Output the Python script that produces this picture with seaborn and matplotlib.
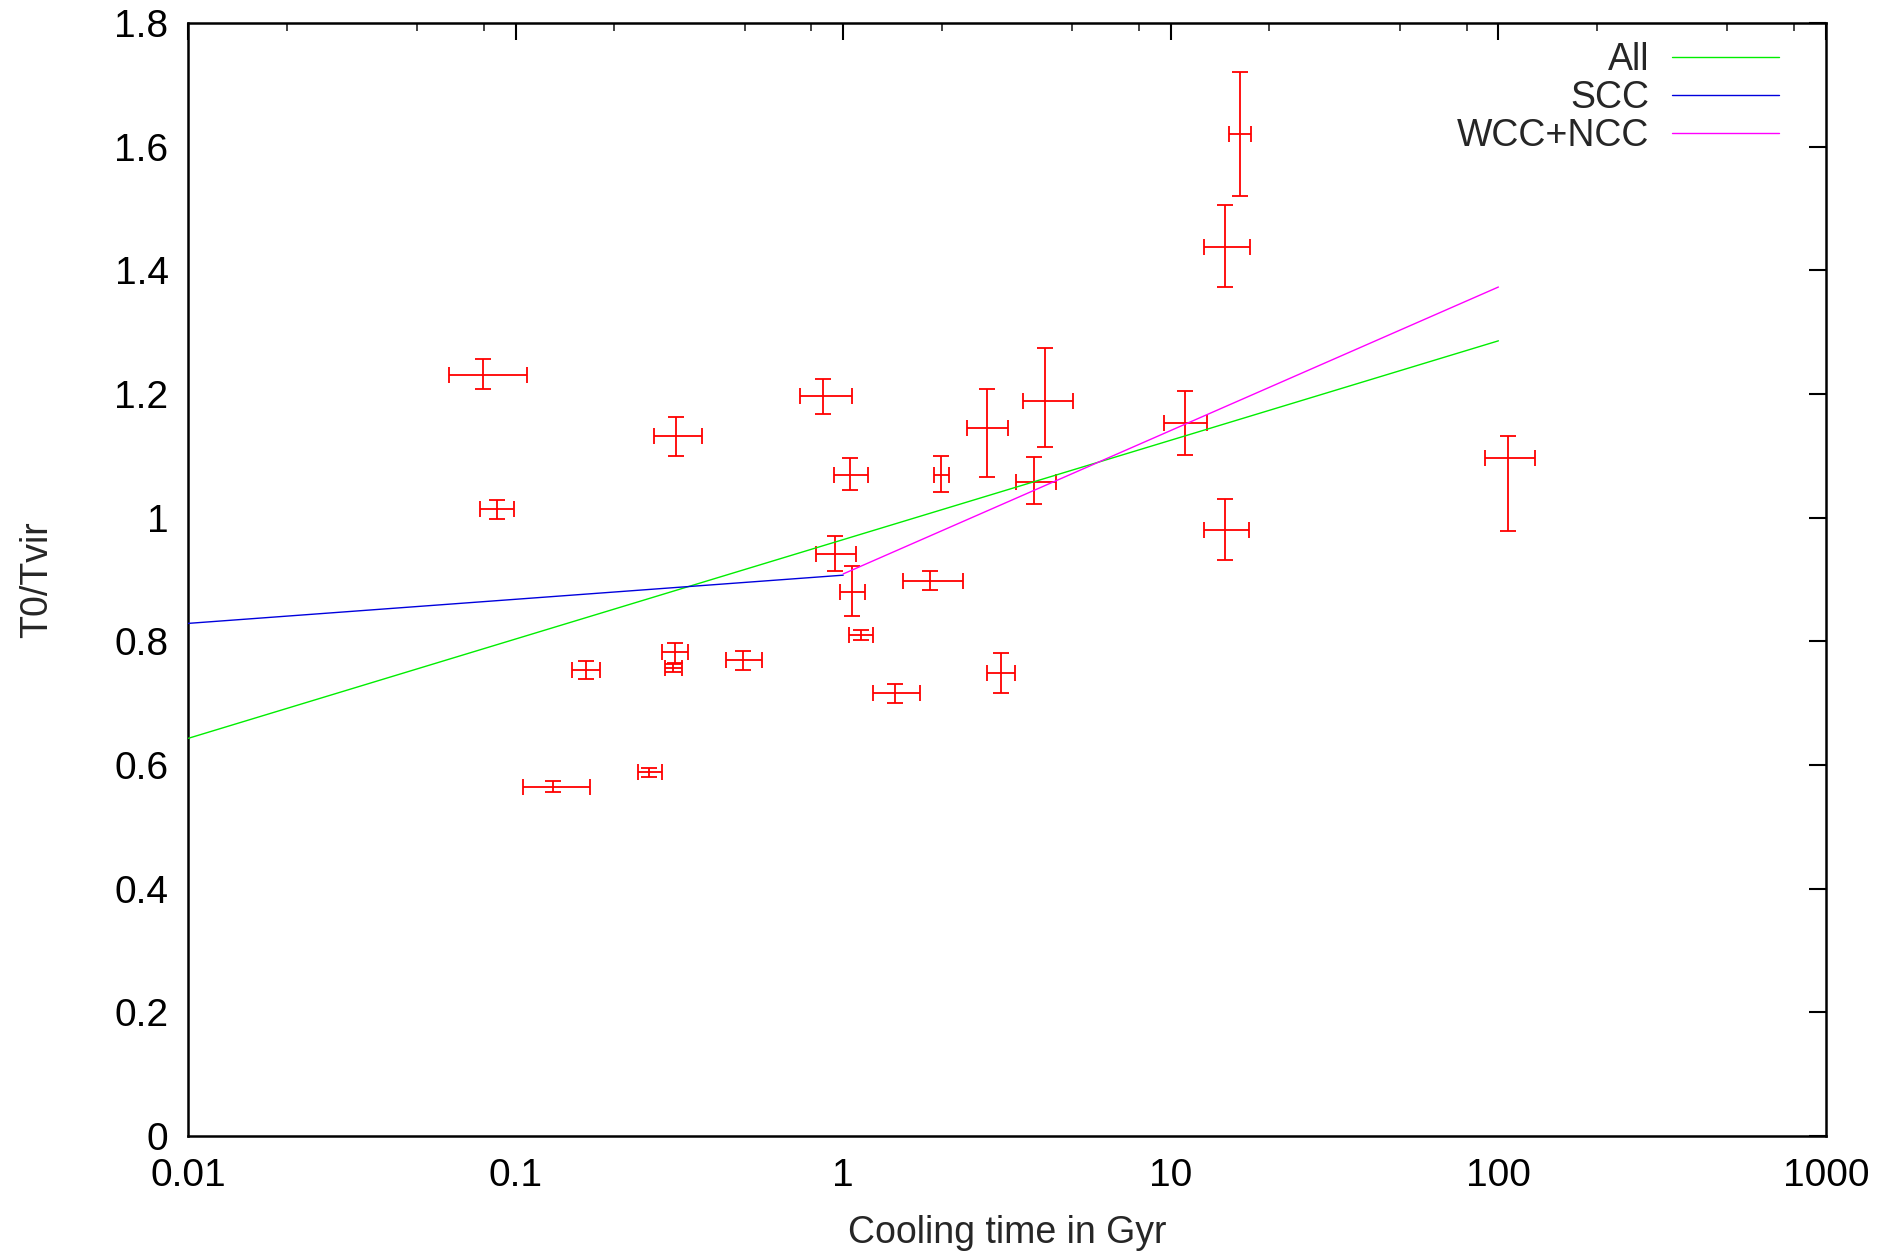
import numpy as np
import pandas as pd
import matplotlib
matplotlib.use("Agg")
import matplotlib.pyplot as plt
import matplotlib.ticker as mticker
import seaborn as sns

# cooling time (Gyr) with lower/upper bounds
tcool = [0.0796, 0.0876, 0.309, 0.870, 1.049, 0.944, 1.062, 1.131, 0.164, 0.307, 0.303, 0.496, 1.439,
         0.130, 0.256, 1.989, 2.742, 4.13, 3.832, 1.84, 3.026, 11.05, 16.23, 14.64, 14.64, 106.7]
tcool_lo = [0.0627, 0.0780, 0.265, 0.738, 0.937, 0.826, 0.977, 1.041, 0.149, 0.280, 0.286, 0.439, 1.236,
            0.1055, 0.237, 1.892, 2.393, 3.53, 3.363, 1.519, 2.754, 9.55, 15.1, 12.63, 12.6, 91.2]
tcool_hi = [0.1086, 0.0991, 0.371, 1.062, 1.193, 1.094, 1.166, 1.236, 0.181, 0.337, 0.321, 0.567, 1.716,
            0.169, 0.279, 2.104, 3.19, 5.02, 4.454, 2.326, 3.345, 12.92, 17.56, 17.40, 17.35, 129.6]
# T0/Tvir with lower/upper bounds
ratio = [1.231, 1.014, 1.132, 1.196, 1.069, 0.942, 0.879, 0.810, 0.754, 0.782, 0.757, 0.770, 0.716,
         0.565, 0.588, 1.069, 1.145, 1.189, 1.058, 0.898, 0.748, 1.153, 1.621, 1.438, 0.980, 1.097]
ratio_lo = [1.208, 0.998, 1.100, 1.167, 1.044, 0.914, 0.841, 0.802, 0.739, 0.765, 0.751, 0.753, 0.701,
            0.557, 0.581, 1.041, 1.066, 1.114, 1.022, 0.883, 0.717, 1.101, 1.521, 1.373, 0.931, 0.979]
ratio_hi = [1.256, 1.029, 1.163, 1.225, 1.097, 0.971, 0.922, 0.818, 0.768, 0.798, 0.763, 0.784, 0.731,
            0.574, 0.595, 1.099, 1.208, 1.275, 1.098, 0.913, 0.781, 1.205, 1.721, 1.505, 1.030, 1.132]

# fitted lines (end points, straight in log x)
fit_names = ["All", "SCC", "WCC+NCC"]
fit_x = [[0.01, 100], [0.01, 1], [1, 100]]
fit_y = [[0.643, 1.286], [0.829, 0.907], [0.909, 1.373]]
fit_colors = ["#00ee00", "#0000dd", "#ff00ff"]

sns.set_theme(style="white")
plt.rcParams["font.family"] = ["Liberation Sans", "DejaVu Sans"]

fig = plt.figure(figsize=(18.87, 12.54), dpi=100)
ax = fig.add_axes([188 / 1887, 118 / 1254, 1638 / 1887, 1113 / 1254])
ax.set_xscale("log")

pts = pd.DataFrame({"x": tcool, "y": ratio})
xerr = [np.array(tcool) - np.array(tcool_lo), np.array(tcool_hi) - np.array(tcool)]
yerr = [np.array(ratio) - np.array(ratio_lo), np.array(ratio_hi) - np.array(ratio)]
ax.errorbar(pts["x"], pts["y"], xerr=xerr, yerr=yerr, fmt="none", ecolor="red",
            elinewidth=1.3, capsize=5.5, capthick=1.3, zorder=2)

fits = pd.DataFrame({
    "x": [v for xs in fit_x for v in xs],
    "y": [v for ys in fit_y for v in ys],
    "fit": [n for n, xs in zip(fit_names, fit_x) for _ in xs],
})
sns.lineplot(data=fits, x="x", y="y", hue="fit", hue_order=fit_names,
             palette=dict(zip(fit_names, fit_colors)), linewidth=1.0, ax=ax, zorder=3)

ax.set_xlim(0.01, 1000)
ax.set_ylim(0, 1.8)
ax.yaxis.set_major_locator(mticker.MultipleLocator(0.2))
ax.xaxis.set_major_locator(mticker.LogLocator(base=10, numticks=10))
ax.xaxis.set_minor_locator(mticker.LogLocator(base=10, subs=[2, 5, 8], numticks=10))
ax.xaxis.set_minor_formatter(mticker.NullFormatter())
ax.xaxis.set_major_formatter(mticker.FuncFormatter(lambda v, p: f"{v:g}"))
ax.yaxis.set_major_formatter(mticker.FuncFormatter(lambda v, p: f"{v:g}"))

for s in ax.spines.values():
    s.set_linewidth(1.8)
    s.set_color("black")
ax.tick_params(which="major", direction="in", length=12, width=1.5, labelsize=28,
               top=True, right=True, colors="black", pad=14)
ax.tick_params(axis="x", which="major", pad=16)
ax.tick_params(which="minor", direction="in", length=6, width=1.2, top=True, right=False)
ax.tick_params(axis="y", which="minor", left=False, right=False)

ax.set_xlabel("Cooling time in Gyr", fontsize=27)
ax.set_ylabel("T0/Tvir", fontsize=27)
ax.xaxis.set_label_coords(0.5, -0.071)
ax.yaxis.set_label_coords(-0.081, 0.5)

handles, labels = ax.get_legend_handles_labels()
ax.legend(handles, labels, loc="upper right", bbox_to_anchor=(0.9713, 0.983),
          frameon=False, markerfirst=False, borderaxespad=0, borderpad=0,
          handlelength=2.85, handletextpad=0.6, labelspacing=0.05, fontsize=27)

fig.savefig("out.png", dpi=100)
